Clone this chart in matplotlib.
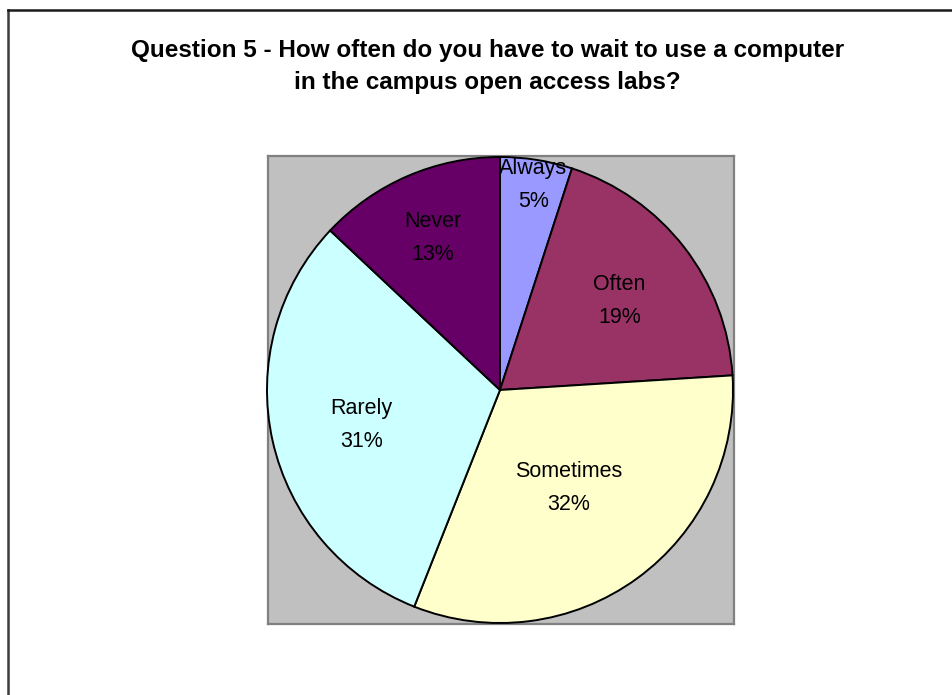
import matplotlib

matplotlib.use("Agg")
import matplotlib.pyplot as plt
import numpy as np
from matplotlib.lines import Line2D

plt.rcParams["font.family"] = ["Liberation Sans", "DejaVu Sans"]

# Survey answers, clockwise from 12 o'clock
categories = ["Always", "Often", "Sometimes", "Rarely", "Never"]
shares = [5, 19, 32, 31, 13]
colors = ["#9999FF", "#993366", "#FFFFCC", "#CCFFFF", "#660066"]
# how far out (fraction of radius) each label sits along its wedge bisector
label_radius = [0.91, 0.65, 0.50, 0.61, 0.73]

title = ("Question 5 - How often do you have to wait to use a computer\n"
         "in the campus open access labs?")

W, H = 952, 695
fig = plt.figure(figsize=(W / 100, H / 100), dpi=100)
fig.patch.set_facecolor("white")

# chart border (runs off the right and bottom edges)
fig.add_artist(Line2D([7.5 / W, 7.5 / W], [0, 1 - 9.5 / H], transform=fig.transFigure,
                      color="#3a3a3a", linewidth=1.8))
fig.add_artist(Line2D([7.5 / W, 1], [1 - 9.5 / H, 1 - 9.5 / H], transform=fig.transFigure,
                      color="#1a1a1a", linewidth=1.8))

# grey plot area behind the pie
bg = fig.add_axes([268 / W, 1 - 624 / H, 466 / W, 468 / H])
bg.set_facecolor("#C0C0C0")
bg.set_xticks([])
bg.set_yticks([])
for s in bg.spines.values():
    s.set_color("#808080")
    s.set_linewidth(1.6)

cx, cy, r = 500, 390, 233
ax = fig.add_axes([(cx - r) / W, 1 - (cy + r) / H, 2 * r / W, 2 * r / H])
wedges, _ = ax.pie(shares, colors=colors, startangle=90, counterclock=False,
                   wedgeprops=dict(edgecolor="black", linewidth=1.4))
ax.set_xlim(-1, 1)
ax.set_ylim(-1, 1)
ax.set_aspect("equal")
ax.patch.set_visible(False)

for w, name, pct, lr in zip(wedges, categories, shares, label_radius):
    mid = np.deg2rad((w.theta1 + w.theta2) / 2)
    ax.annotate(f"{name}\n{pct}%", xy=(lr * np.cos(mid), lr * np.sin(mid)),
                xytext=(0, -3), textcoords="offset points",
                ha="center", va="center", fontsize=15.5, linespacing=1.75,
                color="black", annotation_clip=False)

fig.text(487.5 / W, 1 - 66 / H, title, ha="center", va="center",
         fontsize=17.5, fontweight="bold", linespacing=1.5)

fig.savefig("out.png", dpi=100, facecolor="white")
